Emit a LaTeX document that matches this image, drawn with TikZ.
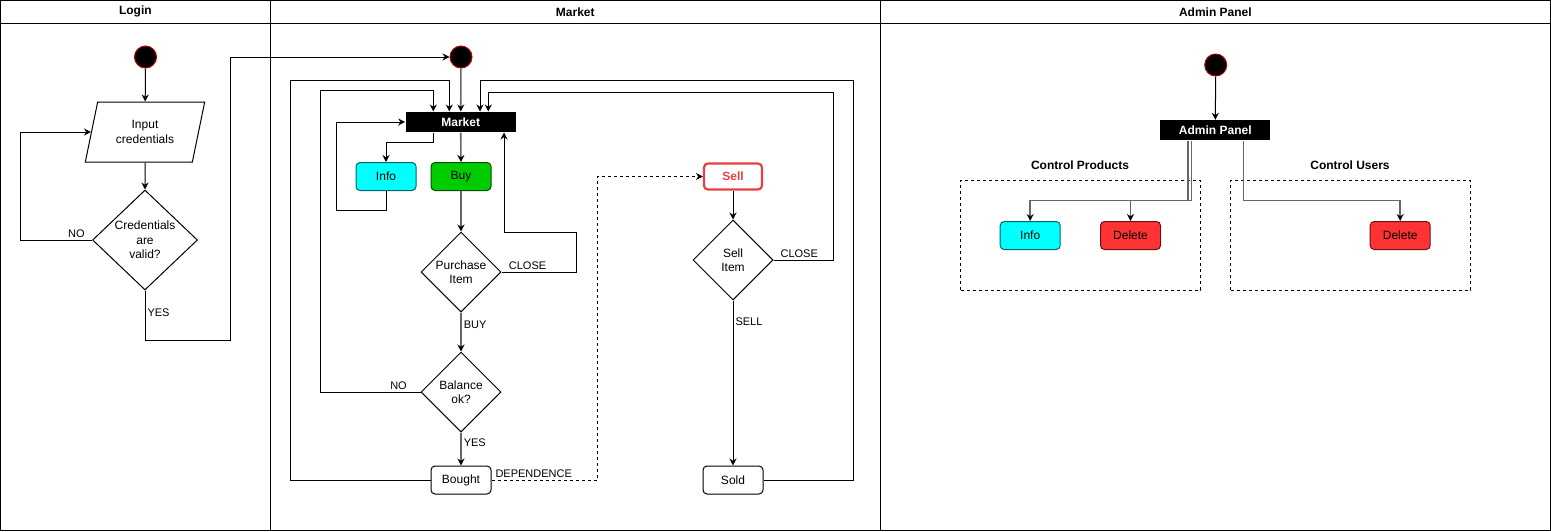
\documentclass[tikz,border=0pt]{standalone}
\usepackage{fontspec}
\setmainfont{Liberation Sans}
\usepackage{tikz}
\usetikzlibrary{arrows.meta,positioning,shapes.geometric}
\definecolor{startred}{RGB}{180,0,0}
\definecolor{infocyan}{RGB}{0,255,255}
\definecolor{buygreen}{RGB}{0,204,0}
\definecolor{delred}{RGB}{255,51,51}
\definecolor{sellred}{RGB}{232,64,64}
\tikzset{
	>={Stealth[length=7pt,width=7pt,color=black]},
	lanehead/.style={draw,minimum height=22.8pt,inner sep=0pt,font=\fontsize{12}{14}\selectfont\bfseries},
	lanebody/.style={draw,minimum height=507.2pt,inner sep=0pt},
	initstate/.style={circle,fill=black,draw=startred,minimum size=22pt,inner sep=0pt},
	actbar/.style={rectangle,fill=black,text=white,minimum width=110pt,minimum height=20pt,inner sep=0pt,font=\fontsize{12}{14}\selectfont\bfseries},
	iobox/.style={draw,trapezium,trapezium left angle=71.6,trapezium right angle=108.4,trapezium stretches=true,minimum width=120pt,minimum height=60pt,inner sep=0pt,align=center},
	decision/.style={draw,diamond,minimum width=80pt,minimum height=80pt,inner sep=0pt,align=center},
	roundbox/.style={draw,rectangle,rounded corners=4pt,minimum width=60pt,minimum height=28pt,inner sep=0pt},
	infobox/.style={roundbox,fill=infocyan,draw=infocyan!40!black},
	buybox/.style={roundbox,fill=buygreen,draw=buygreen!40!black},
	delbox/.style={roundbox,fill=delred,draw=delred!40!black},
	sellbox/.style={roundbox,draw=sellred,line width=2.2pt,text=sellred,font=\fontsize{12}{14}\selectfont\bfseries,minimum width=58pt,minimum height=26pt},
	groupbox/.style={draw,dashed,minimum width=240pt,minimum height=109.7pt,inner sep=0pt},
	grouptitle/.style={font=\fontsize{12}{14}\selectfont\bfseries},
	lbl/.style={font=\fontsize{11}{13}\selectfont,inner sep=2pt},
	soft/.style={draw=black!60,line width=1.6pt}
}

\begin{document}
\begin{tikzpicture}[x=1pt,y=-1pt,line width=1pt,font=\fontsize{12}{14.4}\selectfont]
	\useasboundingbox (0,0) rectangle (1551,531);
	% swimlanes
	\node[lanehead,minimum width=269.8pt] (hlogin) at (135.4,11.9) {Login};
	\node[lanehead,minimum width=610pt] (hmarket) at (575.3,11.9) {Market};
	\node[lanehead,minimum width=670.2pt] (hadmin) at (1215.4,11.9) {Admin Panel};
	\node[lanebody,minimum width=269.8pt] (blogin) at (135.4,276.9) {};
	\node[lanebody,minimum width=610pt] (bmarket) at (575.3,276.9) {};
	\node[lanebody,minimum width=670.2pt] (badmin) at (1215.4,276.9) {};

	% login
	\node[initstate] (slogin) at (145.5,57) {};
	\node[iobox] (cred) at (145,132) {Input\\credentials};
	\node[decision,minimum width=105pt,minimum height=100pt] (valid) at (145,240) {Credentials\\are\\valid?};

	\draw[->] (slogin) -- (cred);
	\draw[->] (cred) -- (valid);
	\draw[->] (valid.west) -- node[lbl,above,pos=0.22] {NO} (20.7,240) |- (cred);

	% market
	\node[initstate] (smarket) at (461,57) {};
	\node[actbar] (mkt) at (460.7,122) {Market};
	\node[infobox] (minfo) at (386,176.5) {Info};
	\node[buybox] (buy) at (461,176.5) {Buy};
	\node[decision] (purch) at (461,272) {Purchase\\Item};
	\node[decision] (bal) at (461,392) {Balance\\ok?};
	\node[roundbox] (bought) at (461,480) {Bought};
	\node[sellbox] (sell) at (733,176.5) {Sell};
	\node[decision] (sitem) at (733,260) {Sell\\Item};
	\node[roundbox] (sold) at (733,480) {Sold};

	\draw[->] (valid.south) -- node[lbl,right,pos=0.45] {YES} (145,340) -| (230,57) -- (smarket);
	\draw[->,soft] (smarket) -- (mkt);
	\draw[->] ([xshift=-27pt]mkt.south) -- ++(0,10) -| (minfo.north);
	\draw[->] (minfo.south) |- (336.7,210) |- (mkt.west);
	\draw[->,soft] (mkt) -- (buy);
	\draw[->,soft] (buy) -- (purch);
	\draw[->] (purch.east) -- node[lbl,above,pos=0.35] {CLOSE} (576,272) |- (504,232.3) -- ([xshift=43.3pt]mkt.south);
	\draw[->,soft] (purch) -- node[lbl,right,pos=0.32] {BUY} (bal);
	\draw[->] (bal.west) -- node[lbl,above,pos=0.22] {NO} (320.7,392) |- (433.3,90.7) -- ([xshift=-27.4pt]mkt.north);
	\draw[->,soft] (bal) -- node[lbl,right,pos=0.31] {YES} (bought);
	\draw[->] (bought.west) -| (290.7,80.7) -| ([xshift=-11.4pt]mkt.north);
	\draw[->,dashed] (bought.east) -- node[lbl,above,pos=0.4] {DEPENDENCE} (597,480) |- (sell.west);
	\draw[->] (sell) -- (sitem);
	\draw[->] (sitem.east) -- node[lbl,above,pos=0.43] {CLOSE} (833.3,260) |- (488.3,92.3) -- ([xshift=27.6pt]mkt.north);
	\draw[->] (sitem) -- node[lbl,right,pos=0.13] {SELL} (sold);
	\draw[->] (sold.east) -| (853.3,80.7) -| ([xshift=19.3pt]mkt.north);

	% admin panel
	\node[groupbox] (gprod) at (1080.7,235.2) {};
	\node[groupbox] (gusers) at (1350.5,235.2) {};
	\node[grouptitle] (tprod) at (1080,165) {Control Products};
	\node[grouptitle] (tusers) at (1350,165) {Control Users};
	\node[initstate] (sadmin) at (1215.7,65) {};
	\node[actbar] (adm) at (1215.3,130.3) {Admin Panel};
	\node[infobox] (ainfo) at (1030.2,235.5) {Info};
	\node[delbox] (pdel) at (1130.5,235.5) {Delete};
	\node[delbox] (udel) at (1400.2,235.5) {Delete};

	\draw[->] (sadmin) -- (adm);
	\draw[->,soft] ([xshift=-27.3pt]adm.south) -- ++(0,59.7) -| (ainfo.north);
	\draw[->,soft] ([xshift=-24pt]adm.south) -- ++(0,59.7) -| (pdel.north);
	\draw[->,soft] ([xshift=28pt]adm.south) -- ++(0,59.7) -| (udel.north);
\end{tikzpicture}
\end{document}
